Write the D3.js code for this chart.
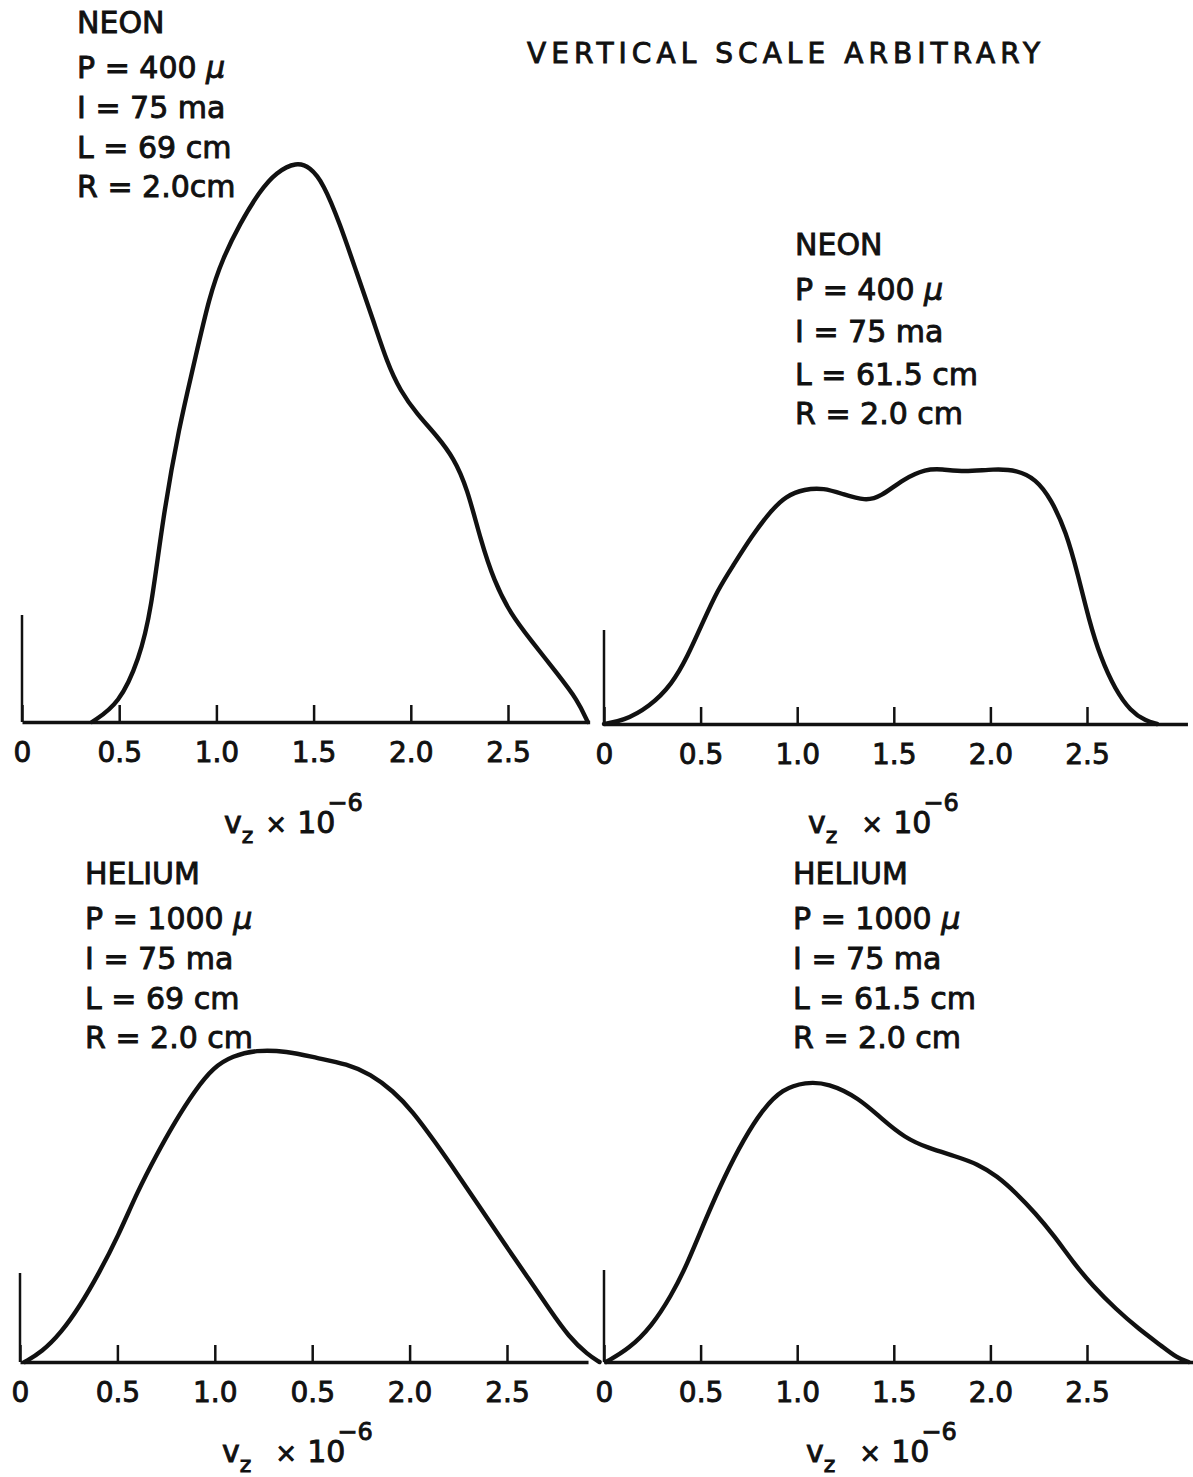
<!DOCTYPE html>
<html>
<head>
<meta charset="utf-8">
<script src="https://cdn.jsdelivr.net/npm/d3@7"></script>
<style>
  body { margin: 0; background: #fff; }
  text { font-family: "DejaVu Sans", sans-serif; fill: #111; stroke: #111; stroke-width: 0.9px; }
</style>
</head>
<body>
<svg id="chart" width="1193" height="1477"></svg>
<script>
// velocity (x 10^-6) and relative intensity (arbitrary units)
const neon69V = [0.36, 0.5, 0.603, 0.664, 0.724, 0.81, 0.879, 0.965, 1.034, 1.12, 1.223, 1.309, 1.412, 1.481, 1.55, 1.636, 1.722, 1.808, 1.877, 1.946, 2.032, 2.135, 2.221, 2.29, 2.359, 2.428, 2.514, 2.617, 2.755, 2.858, 2.91];
const neon69I = [0, 18, 63, 111, 204, 297, 353, 427, 464, 498, 531, 550, 560, 555, 539, 498, 449, 401, 360, 331, 308, 286, 264, 234, 182, 141, 108, 82, 48, 22, 0];

const neon615V = [0, 0.098, 0.235, 0.353, 0.431, 0.51, 0.588, 0.667, 0.765, 0.863, 0.941, 1.039, 1.137, 1.235, 1.353, 1.431, 1.549, 1.667, 1.745, 1.863, 2.02, 2.137, 2.235, 2.314, 2.392, 2.451, 2.51, 2.569, 2.647, 2.725, 2.804, 2.863];
const neon615I = [0, 3, 17, 40, 67, 101, 134, 158, 188, 213, 228, 235, 236, 230, 223, 227, 245, 255, 255, 252, 255, 254, 245, 225, 192, 151, 104, 67, 34, 13, 3, 0];

const helium69V = [0.024, 0.112, 0.21, 0.308, 0.406, 0.504, 0.602, 0.7, 0.798, 0.896, 0.994, 1.092, 1.21, 1.367, 1.524, 1.68, 1.798, 1.916, 2.014, 2.131, 2.249, 2.367, 2.484, 2.602, 2.72, 2.818, 2.916, 2.975];
const helium69I = [0, 10, 29, 56, 89, 126, 170, 207, 241, 271, 295, 306, 312, 311, 304, 298, 288, 271, 251, 220, 187, 153, 119, 86, 52, 25, 7, 0];

const helium615V = [0.01, 0.129, 0.248, 0.347, 0.427, 0.526, 0.625, 0.724, 0.823, 0.923, 1.042, 1.161, 1.319, 1.438, 1.558, 1.677, 1.815, 1.935, 2.034, 2.133, 2.232, 2.331, 2.431, 2.53, 2.649, 2.768, 2.887, 2.966, 3.026];
const helium615I = [0, 13, 36, 66, 96, 143, 186, 223, 253, 273, 280, 279, 264, 243, 224, 214, 206, 198, 186, 169, 149, 126, 99, 76, 53, 33, 16, 4, 0];

const tickValues = [0, 0.5, 1.0, 1.5, 2.0, 2.5];
const tickLabels = ["0", "0.5", "1.0", "1.5", "2.0", "2.5"];
const tickLabelsMisprint = ["0", "0.5", "1.0", "0.5", "2.0", "2.5"]; // as lettered on the helium 69 cm plate

const neon69Text = ["NEON", "P = 400 μ", "I = 75 ma", "L = 69 cm", "R = 2.0cm"];
const neon615Text = ["NEON", "P = 400 μ", "I = 75 ma", "L = 61.5 cm", "R = 2.0 cm"];
const helium69Text = ["HELIUM", "P = 1000 μ", "I = 75 ma", "L = 69 cm", "R = 2.0 cm"];
const helium615Text = ["HELIUM", "P = 1000 μ", "I = 75 ma", "L = 61.5 cm", "R = 2.0 cm"];

const svg = d3.select("#chart");

//layout of the four plates (pixel positions only)
const panels = [
  {v: neon69V, i: neon69I, labels: tickLabels, text: neon69Text,
   x0: 22, unit: 194.4, vEnd: 2.92, base: 722, vAxis: 107, tx: 77, ty: [33, 78, 118, 158, 197], ax: 224, ay: 833, gap: 0},
  {v: neon615V, i: neon615I, labels: tickLabels, text: neon615Text,
   x0: 604, unit: 193.2, vEnd: 3.02, base: 724, vAxis: 94, tx: 795, ty: [255, 300, 342, 385, 424], ax: 808, ay: 833, gap: 12},
  {v: helium69V, i: helium69I, labels: tickLabelsMisprint, text: helium69Text,
   x0: 20, unit: 194.8, vEnd: 2.916, base: 1362, vAxis: 89, tx: 85, ty: [884, 929, 969, 1009, 1048], ax: 222, ay: 1462, gap: 12},
  {v: helium615V, i: helium615I, labels: tickLabels, text: helium615Text,
   x0: 604, unit: 193.2, vEnd: 3.05, base: 1362, vAxis: 92, tx: 793, ty: [884, 929, 969, 1009, 1048], ax: 806, ay: 1462, gap: 12}
];

panels.forEach(drawPanel);

//title across the top
svg.append("text")
  .attr("x", 527)
  .attr("y", 63)
  .attr("font-size", 28)
  .attr("textLength", 513)
  .attr("lengthAdjust", "spacing")
  .text("VERTICAL SCALE ARBITRARY");

function drawPanel(p) {
  const g = svg.append("g");

  const x = d3.scaleLinear()
    .domain([0, p.vEnd])
    .range([p.x0, p.x0 + p.vEnd * p.unit]);

  const y = d3.scaleLinear()
    .domain([0, 600])
    .range([p.base, p.base - 600]);

  //baseline with ticks pointing up, labels below
  const axis = d3.axisBottom(x)
    .tickValues(tickValues)
    .tickSizeInner(-17)
    .tickSizeOuter(0)
    .tickPadding(20)
    .tickFormat((d, k) => p.labels[k]);

  const ax = g.append("g")
    .attr("transform", `translate(0,${p.base})`)
    .call(axis);

  ax.select(".domain").attr("stroke", "#111").attr("stroke-width", 3.5);
  ax.selectAll(".tick line").attr("stroke", "#111").attr("stroke-width", 2.5);
  ax.selectAll(".tick text")
    .attr("font-size", 28)
    .attr("font-family", "DejaVu Sans, sans-serif")
    .attr("fill", "#111")
    .attr("stroke", "#111")
    .attr("stroke-width", 0.9)
    .attr("dy", "0.71em");

  //short vertical axis at the origin
  g.append("line")
    .attr("x1", x(0)).attr("x2", x(0))
    .attr("y1", y(0)).attr("y2", y(p.vAxis))
    .attr("stroke", "#111")
    .attr("stroke-width", 2.5);

  const pts = p.v.map((v, k) => [v, p.i[k]]);
  const line = d3.line()
    .x(d => x(d[0]))
    .y(d => y(d[1]))
    .curve(d3.curveBasis);

  g.append("path")
    .datum(pts)
    .attr("d", line)
    .attr("fill", "none")
    .attr("stroke", "#111")
    .attr("stroke-width", 4.4)
    .attr("stroke-linejoin", "round")
    .attr("stroke-linecap", "round");

  //condition block
  p.text.forEach((s, k) => {
    const t = g.append("text")
      .attr("x", p.tx)
      .attr("y", p.ty[k])
      .attr("font-size", 30);
    if (s.includes("μ")) {
      t.append("tspan").text(s.replace("μ", ""));
      t.append("tspan").attr("font-style", "italic").text("μ");
    } else {
      t.text(s);
    }
  });

  //axis title  v_z x 10^-6
  const at = g.append("text")
    .attr("x", p.ax)
    .attr("y", p.ay)
    .attr("font-size", 30);
  at.append("tspan").text("v");
  at.append("tspan").attr("font-size", 22).attr("dy", 10).text("z");
  at.append("tspan").attr("font-size", 26).attr("dy", -10).attr("dx", 12 + p.gap).text("×");
  at.append("tspan").attr("dx", 10).text("10");
  at.append("tspan").attr("font-size", 24).attr("dy", -22).attr("dx", -8).text("−6");
}
</script>
</body>
</html>
